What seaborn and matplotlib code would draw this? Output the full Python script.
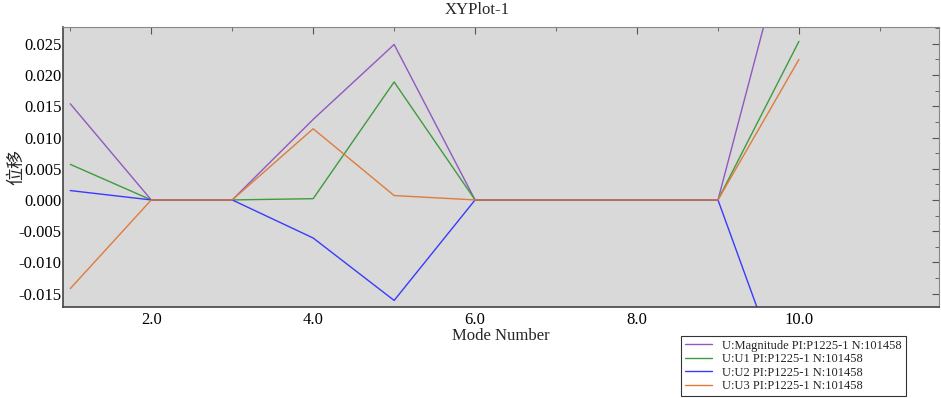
import numpy as np
import pandas as pd
import matplotlib
matplotlib.use("Agg")
import matplotlib.pyplot as plt
import seaborn as sns
from matplotlib.ticker import MultipleLocator, FormatStrFormatter

modes = [1, 2, 3, 4, 5, 6, 7, 8, 9, 10]
magnitude = [0.0154, 0.0, 0.0, 0.0129, 0.0249, 0.0, 0.0, 0.0, 0.0, 0.0492]
u1 = [0.0057, 0.0, 0.0, 0.0002, 0.0189, 0.0, 0.0, 0.0, 0.0, 0.0254]
u2 = [0.0015, 0.0, 0.0, -0.0061, -0.0161, 0.0, 0.0, 0.0, 0.0, -0.0357]
u3 = [-0.0142, 0.0, 0.0, 0.0114, 0.0007, 0.0, 0.0, 0.0, 0.0, 0.0225]
series_names = ["U:Magnitude PI:P1225-1 N:101458",
                "U:U1 PI:P1225-1 N:101458",
                "U:U2 PI:P1225-1 N:101458",
                "U:U3 PI:P1225-1 N:101458"]
colors = ["#9059c0", "#3e9b3e", "#3a3aff", "#e07b3c"]

df = pd.concat([
    pd.DataFrame({"Mode Number": modes, "value": vals, "series": name})
    for name, vals in zip(series_names, [magnitude, u1, u2, u3])
])

sns.set_style("white")
plt.rcParams['font.family'] = ['Liberation Serif', 'Noto Sans CJK SC']

fig = plt.figure(figsize=(9.41, 3.98), dpi=100)
ax = fig.add_axes([63/941, 1-307/398, (939-63)/941, (307-27)/398])
ax.set_facecolor("#d9d9d9")

sns.lineplot(data=df, x="Mode Number", y="value", hue="series",
             palette=colors, ax=ax, linewidth=1.0, legend=True)

ax.set_xlim(0.91, 11.73)
ax.set_ylim(-0.01715, 0.0277)
ax.xaxis.set_major_locator(MultipleLocator(2))
ax.xaxis.set_minor_locator(MultipleLocator(1))
ax.xaxis.set_major_formatter(FormatStrFormatter("%.1f"))
ax.yaxis.set_major_locator(MultipleLocator(0.005))
ax.yaxis.set_minor_locator(MultipleLocator(0.0025))
ax.yaxis.set_major_formatter(FormatStrFormatter("%.3f"))
ax.tick_params(axis="both", which="both", direction="in", top=True, right=True,
               labelsize=12, colors="#555555", labelcolor="black")
ax.tick_params(which="major", length=5)
ax.tick_params(which="minor", length=3)
ax.tick_params(axis="y", pad=1)
for side in ["left", "bottom"]:
    ax.spines[side].set_color("#444444")
    ax.spines[side].set_linewidth(1.2)
for side in ["top", "right"]:
    ax.spines[side].set_color("#888888")
    ax.spines[side].set_linewidth(0.8)

ax.set_xlabel("Mode Number", fontsize=12, labelpad=0)
ax.set_ylabel("位移", fontsize=13, family=['Noto Sans CJK SC'])
ax.yaxis.set_label_coords(-0.043, 0.5)
fig.text(477/941, 1-10/398, "XYPlot-1", fontsize=12, ha="center", va="center")

handles, labels = ax.get_legend_handles_labels()
ax.legend_.remove()
leg = fig.legend(handles, labels, loc="upper left",
                 bbox_to_anchor=(681/941, 1-336/398), fontsize=9.0,
                 frameon=True, fancybox=False, edgecolor="black",
                 handlelength=2.2, labelspacing=0.12, borderpad=0.3,
                 handletextpad=0.8, borderaxespad=0)
leg.get_frame().set_linewidth(0.8)
fig.patch.set_facecolor("white")
fig.savefig("out.png", dpi=100)
